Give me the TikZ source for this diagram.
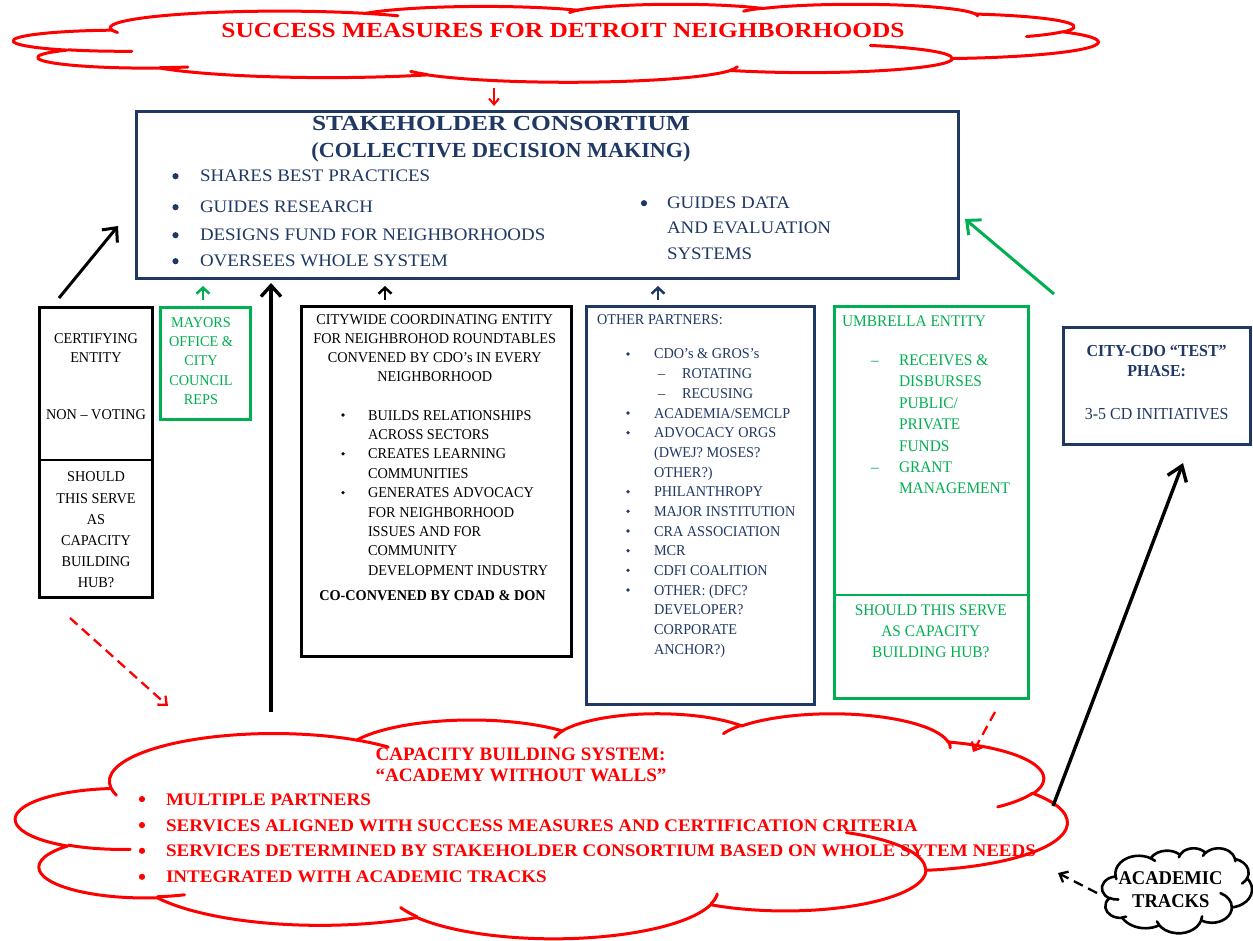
\documentclass[tikz,border=0pt]{standalone}
\usepackage{fontspec}
\usepackage{graphicx}
\setmainfont{Liberation Serif}
\newfontfamily\boxfont{Liberation Serif}[FakeStretch=0.95]
\newfontfamily\widefont{Liberation Serif}[FakeStretch=1.075]
\usetikzlibrary{arrows.meta}
\definecolor{navy}{RGB}{31,56,100}
\definecolor{wgreen}{RGB}{0,176,80}
\definecolor{wred}{RGB}{255,0,0}

% ---- Word-style cloud (preset "cloud" geometry, path units /100) ----
\newcommand\cmove[2]{%
  \pgfmathparse{\cOX+(#1)*\cSX}\let\cMx\pgfmathresult
  \pgfmathparse{\cOY+(#2)*\cSY}\let\cMy\pgfmathresult
  \pgfpathmoveto{\pgfpoint{\cMx pt}{-\cMy pt}}}
\newcommand\carc[4]{%
  \pgfmathparse{atan2((#1)*sin(#3),(#2)*cos(#3))}\let\cAs\pgfmathresult
  \pgfmathparse{atan2((#1)*sin((#3)+(#4)),(#2)*cos((#3)+(#4)))}\let\cAe\pgfmathresult
  \pgfmathparse{mod(\cAe-\cAs+720,360)}\let\cAd\pgfmathresult
  \pgfmathparse{-(\cAs)}\let\cAa\pgfmathresult
  \pgfmathparse{-(\cAs)-(\cAd)}\let\cAb\pgfmathresult
  \pgfmathparse{(#1)*\cSX}\let\cArx\pgfmathresult
  \pgfmathparse{(#2)*\cSY}\let\cAry\pgfmathresult
  \pgfpatharc{\cAa}{\cAb}{\cArx pt and \cAry pt}}
\newcommand\wordcloud[6]{% x0 y0 W H colour linewidth
  \begin{pgfscope}
  \pgfmathsetmacro\cSX{#3/432}\pgfmathsetmacro\cSY{#4/432}%
  \def\cOX{#1}\def\cOY{#2}%
  \pgfsetlinewidth{#6}\pgfsetstrokecolor{#5}\pgfsetfillcolor{white}%
  \pgfsetroundjoin\pgfsetroundcap
  \cmove{39}{143.70}%
  \carc{67.53}{91.90}{-190.48748}{123.78053}%
  \carc{53.33}{72.67}{-144.10238}{89.94523}%
  \carc{43.65}{59.45}{-145.80792}{99.72302}%
  \carc{48.57}{65.95}{-130.98607}{117.24173}%
  \carc{53.33}{72.73}{-78.70888}{109.02692}%
  \carc{67.75}{92.20}{-46.26725}{130.269}%
  \carc{57.85}{78.67}{0.62502}{114.03333}%
  \carc{67.52}{92.15}{22.4516}{115.17255}%
  \carc{77.20}{105.43}{66.24263}{75.71102}%
  \carc{43.60}{59.18}{-274.94208}{146.73557}%
  \carc{43.45}{59.45}{-246.8285}{152.51885}%
  \pgfpathclose
  \pgfusepath{fill,stroke}%
  \cmove{46.93}{261.77}\carc{43.45}{59.45}{86.742}{26.4295}%
  \cmove{69.28}{348.99}\carc{43.60}{59.18}{73.61047}{11.44747}%
  \cmove{164.78}{390.90}\carc{67.52}{92.15}{137.62415}{14.0811}%
  \cmove{288.27}{347.51}\carc{67.52}{92.15}{6.45327}{15.99835}%
  \cmove{341.29}{229.54}\carc{57.85}{78.67}{-70.29235}{70.91737}%
  \cmove{417.98}{153.54}\carc{53.33}{72.73}{30.31803}{27.7515}%
  \cmove{383.24}{54.26}\carc{48.57}{65.95}{-13.74433}{14.8589}%
  \cmove{290.78}{39.52}\carc{48.57}{65.95}{-149.18145}{18.19537}%
  \cmove{221.41}{47.20}\carc{43.65}{59.45}{-163.49427}{17.68635}%
  \cmove{140.00}{51.92}\carc{67.53}{91.90}{-66.70695}{12.31935}%
  \cmove{41.27}{157.89}\carc{67.53}{91.90}{157.65435}{11.85817}%
  \pgfusepath{stroke}%
  \end{pgfscope}}

\begin{document}
\begin{tikzpicture}[x=1pt,y=-1pt,
  L/.style={inner sep=0pt, outer sep=0pt, anchor=base west},
  C/.style={inner sep=0pt, outer sep=0pt, anchor=base},
  dot/.style={circle, inner sep=0pt, outer sep=0pt, draw=none},
  bigdot/.style={dot, minimum size=6.2pt},
  smalldot/.style={dot, minimum size=3.6pt},
  box/.style={draw, line width=3pt, inner sep=0pt, outer sep=0pt},
  divider/.style={line width=1.2pt},
  bigarrow/.style={line width=3pt, -{Straight Barb[length=11pt,width=20pt]}},
  smallarrow/.style={line width=2.5pt, -{Straight Barb[length=6pt,width=13pt]}},
  dasharrow/.style={line width=2.3pt, dash pattern=on 10pt off 6pt, -{Straight Barb[length=7pt,width=12pt]}},
  titlef/.style={font=\bfseries\fontsize{21.5}{24}\selectfont},
  consf/.style={font=\widefont\fontsize{17.6}{20}\selectfont, text=navy},
  certf/.style={font=\boxfont\fontsize{15}{18}\selectfont, text=black},
  mayf/.style={font=\boxfont\fontsize{15}{18}\selectfont, text=wgreen},
  partf/.style={font=\boxfont\fontsize{15}{18}\selectfont, text=navy},
  umbf/.style={font=\boxfont\fontsize{16.2}{19}\selectfont, text=wgreen},
  testf/.style={font=\boxfont\fontsize{16.8}{19}\selectfont, text=navy},
  botf/.style={font=\widefont\bfseries\fontsize{17.7}{20}\selectfont, text=wred},
  bott/.style={font=\bfseries\fontsize{19}{22}\selectfont, text=wred},
  acaf/.style={font=\boxfont\bfseries\fontsize{19.5}{22}\selectfont, text=black}]
\useasboundingbox[fill=white] (0,0) rectangle (1253,941);

% ---------- clouds ----------
\wordcloud{14}{4}{1084}{78}{wred}{3pt}
\wordcloud{16}{713}{1051}{225}{wred}{3pt}
\wordcloud{1102}{848}{150}{85}{black}{2.6pt}
\node[inner sep=0pt, minimum width=1084pt, minimum height=78pt] (topcloud) at (556,43) {};
\node[inner sep=0pt, minimum width=1051pt, minimum height=225pt] (botcloud) at (541.5,825.5) {};
\node[inner sep=0pt, minimum width=150pt, minimum height=85pt] (acacloud) at (1177,890.5) {};

\node[C, titlef, text=wred] (ttl) at (563,37.3) {\resizebox{683pt}{\height}{SUCCESS MEASURES FOR DETROIT NEIGHBORHOODS}};

% ---------- boxes ----------
\node[box, draw=navy, minimum width=822pt, minimum height=167pt] (cons) at (547.5,195) {};
\node[box, draw=black, minimum width=113pt, minimum height=290pt] (cert) at (96,452.5) {};
\node[box, draw=wgreen, minimum width=90pt, minimum height=112pt] (mayor) at (205.5,363.5) {};
\node[box, draw=black, minimum width=270pt, minimum height=350pt] (city) at (436.5,481.5) {};
\node[box, draw=navy, minimum width=228pt, minimum height=398pt] (part) at (700.5,505.5) {};
\node[box, draw=wgreen, minimum width=194pt, minimum height=392pt] (umb) at (931.5,502.5) {};
\node[box, draw=navy, minimum width=187pt, minimum height=117pt] (test) at (1157,386) {};

\coordinate (certdiv) at (96,460);
\draw[divider] (cert.west |- certdiv) -- (cert.east |- certdiv);
\coordinate (umbdiv) at (931.5,595);
\draw[divider, wgreen] (umb.west |- umbdiv) -- (umb.east |- umbdiv);

% ---------- consortium text ----------
\node[C, titlef, text=navy] (ct1) at (501,131) {\resizebox{378pt}{\height}{STAKEHOLDER CONSORTIUM}};
\node[C, titlef, text=navy] (ct2) at (501,158) {\resizebox{379pt}{\height}{(COLLECTIVE DECISION MAKING)}};
\node[bigdot, fill=navy] (cb1) at (175.5,176.2) {};
\node[L, consf] (cl1) at (200,182) {SHARES BEST PRACTICES};
\node[bigdot, fill=navy] (cb2) at (175.5,207.2) {};
\node[L, consf] (cl2) at (200,213) {GUIDES RESEARCH};
\node[bigdot, fill=navy] (cb3) at (175.5,235.2) {};
\node[L, consf] (cl3) at (200,241) {DESIGNS FUND FOR NEIGHBORHOODS};
\node[bigdot, fill=navy] (cb4) at (175.5,261.2) {};
\node[L, consf] (cl4) at (200,267) {OVERSEES WHOLE SYSTEM};
\node[bigdot, fill=navy] (cb5) at (644,203.2) {};
\node[L, consf] (cr1) at (667,209) {GUIDES DATA};
\node[L, consf] (cr2) at (667,234) {AND EVALUATION};
\node[L, consf] (cr3) at (667,260) {SYSTEMS};

% ---------- certifying ----------
\node[C, certf] (ce1) at (96,343) {CERTIFYING};
\node[C, certf] (ce2) at (96,362.7) {ENTITY};
\node[C, certf] (ce3) at (96,419) {NON – VOTING};
\node[C, certf] (ce4) at (96,481.7) {SHOULD};
\node[C, certf] (ce5) at (96,503) {THIS SERVE};
\node[C, certf] (ce6) at (96,524) {AS};
\node[C, certf] (ce7) at (96,545) {CAPACITY};
\node[C, certf] (ce8) at (96,566.7) {BUILDING};
\node[C, certf] (ce9) at (96,587.3) {HUB?};

% ---------- mayors ----------
\node[C, mayf] (ma1) at (201,327.3) {MAYORS};
\node[C, mayf] (ma2) at (201,346.7) {OFFICE \&};
\node[C, mayf] (ma3) at (201,365.7) {CITY};
\node[C, mayf] (ma4) at (201,385) {COUNCIL};
\node[C, mayf] (ma5) at (201,404) {REPS};

% ---------- citywide ----------
\node[C, certf] (cw1) at (434.7,325) {CITYWIDE COORDINATING ENTITY};
\node[C, certf] (cw2) at (434.7,343.5) {FOR NEIGHBROHOD ROUNDTABLES};
\node[C, certf] (cw3) at (434.7,362.5) {CONVENED BY CDO’s IN EVERY};
\node[C, certf] (cw4) at (434.7,381.7) {NEIGHBORHOOD};
\node[smalldot, fill=black] (cwb1) at (343,415) {};
\node[L, certf] (cwi1) at (368,420) {BUILDS RELATIONSHIPS};
\node[L, certf] (cwi2) at (368,439.4) {ACROSS SECTORS};
\node[smalldot, fill=black] (cwb2) at (343,453.8) {};
\node[L, certf] (cwi3) at (368,458.8) {CREATES LEARNING};
\node[L, certf] (cwi4) at (368,478.2) {COMMUNITIES};
\node[smalldot, fill=black] (cwb3) at (343,492.6) {};
\node[L, certf] (cwi5) at (368,497.6) {GENERATES ADVOCACY};
\node[L, certf] (cwi6) at (368,517) {FOR NEIGHBORHOOD};
\node[L, certf] (cwi7) at (368,536.4) {ISSUES AND FOR};
\node[L, certf] (cwi8) at (368,555.8) {COMMUNITY};
\node[L, certf] (cwi9) at (368,575.2) {DEVELOPMENT INDUSTRY};
\node[C, certf, font=\boxfont\bfseries\fontsize{15}{18}\selectfont] (cw5) at (432.5,600) {CO-CONVENED BY CDAD \& DON};

% ---------- other partners ----------
\node[L, partf] (op0) at (597,325) {OTHER PARTNERS:};
\node[smalldot, fill=navy] (opb1) at (628,354) {};
\node[L, partf] (op1) at (654,359) {CDO’s \& GROS’s};
\node[L, partf] (opd1) at (658,378.7) {–};
\node[L, partf] (op2) at (682,378.7) {ROTATING};
\node[L, partf] (opd2) at (658,398.3) {–};
\node[L, partf] (op3) at (682,398.3) {RECUSING};
\node[smalldot, fill=navy] (opb2) at (628,413) {};
\node[L, partf] (op4) at (654,418) {ACADEMIA/SEMCLP};
\node[smalldot, fill=navy] (opb3) at (628,432.7) {};
\node[L, partf] (op5) at (654,437.7) {ADVOCACY ORGS};
\node[L, partf] (op6) at (654,457.3) {(DWEJ? MOSES?};
\node[L, partf] (op7) at (654,477) {OTHER?)};
\node[smalldot, fill=navy] (opb4) at (628,491.7) {};
\node[L, partf] (op8) at (654,496.7) {PHILANTHROPY};
\node[smalldot, fill=navy] (opb5) at (628,511.3) {};
\node[L, partf] (op9) at (654,516.3) {MAJOR INSTITUTION};
\node[smalldot, fill=navy] (opb6) at (628,531) {};
\node[L, partf] (op10) at (654,536) {CRA ASSOCIATION};
\node[smalldot, fill=navy] (opb7) at (628,550.7) {};
\node[L, partf] (op11) at (654,555.7) {MCR};
\node[smalldot, fill=navy] (opb8) at (628,570.3) {};
\node[L, partf] (op12) at (654,575.3) {CDFI COALITION};
\node[smalldot, fill=navy] (opb9) at (628,590) {};
\node[L, partf] (op13) at (654,595) {OTHER: (DFC?};
\node[L, partf] (op14) at (654,614.7) {DEVELOPER?};
\node[L, partf] (op15) at (654,634.3) {CORPORATE};
\node[L, partf] (op16) at (654,654) {ANCHOR?)};

% ---------- umbrella ----------
\node[L, umbf] (um0) at (842,326.7) {UMBRELLA ENTITY};
\node[L, umbf] (umd1) at (871,365.5) {–};
\node[L, umbf] (um1) at (899,365.5) {RECEIVES \&};
\node[L, umbf] (um2) at (899,386.9) {DISBURSES};
\node[L, umbf] (um3) at (899,408.3) {PUBLIC/};
\node[L, umbf] (um4) at (899,429.7) {PRIVATE};
\node[L, umbf] (um5) at (899,451.1) {FUNDS};
\node[L, umbf] (umd2) at (871,472.5) {–};
\node[L, umbf] (um6) at (899,472.5) {GRANT};
\node[L, umbf] (um7) at (899,493.9) {MANAGEMENT};
\node[C, umbf] (um8) at (930.8,615.7) {SHOULD THIS SERVE};
\node[C, umbf] (um9) at (930.8,636.7) {AS CAPACITY};
\node[C, umbf] (um10) at (930.8,657.3) {BUILDING HUB?};

% ---------- test phase ----------
\node[C, testf, font=\boxfont\bfseries\fontsize{16.8}{19}\selectfont] (te1) at (1156.7,356.7) {CITY-CDO “TEST”};
\node[C, testf, font=\boxfont\bfseries\fontsize{16.8}{19}\selectfont] (te2) at (1156.7,376.7) {PHASE:};
\node[C, testf] (te3) at (1156.7,419.3) {3-5 CD INITIATIVES};

% ---------- bottom cloud text ----------
\node[C, bott] (bt1) at (520.6,760) {\resizebox{290pt}{\height}{CAPACITY BUILDING SYSTEM:}};
\node[C, bott] (bt2) at (521,781.5) {\resizebox{291pt}{\height}{“ACADEMY WITHOUT WALLS”}};
\node[bigdot, fill=wred] (bb1) at (142,799.1) {};
\node[L, botf] (bl1) at (166,805) {MULTIPLE PARTNERS};
\node[bigdot, fill=wred] (bb2) at (142,825.1) {};
\node[L, botf] (bl2) at (166,831) {SERVICES ALIGNED WITH SUCCESS MEASURES AND CERTIFICATION CRITERIA};
\node[bigdot, fill=wred] (bb3) at (142,850.8) {};
\node[L, botf] (bl3) at (166,856.7) {SERVICES DETERMINED BY STAKEHOLDER CONSORTIUM BASED ON WHOLE SYTEM NEEDS};
\node[bigdot, fill=wred] (bb4) at (142,876.8) {};
\node[L, botf] (bl4) at (166,882.7) {INTEGRATED WITH ACADEMIC TRACKS};

% ---------- academic tracks text ----------
\node[C, acaf] (ac1) at (1170.5,884) {ACADEMIC};
\node[C, acaf] (ac2) at (1170.8,907.3) {TRACKS};

% ---------- connectors ----------
\coordinate (a1s) at (494,88);   \coordinate (a1e) at (494,106);
\draw[line width=2pt, wred, -{Straight Barb[length=6pt,width=10pt]}] (a1s) -- (a1e);

\coordinate (a2s) at (59,298);   \coordinate (a2e) at (118,226);
\draw[bigarrow] (a2s) -- (a2e);

\coordinate (a3s) at (203,300);  \coordinate (a3e) at (203,286);
\draw[smallarrow, wgreen] (a3s) -- (a3e);

\coordinate (a4s) at (271,712);  \coordinate (a4e) at (271,283);
\draw[bigarrow, line width=3.4pt] (a4s) -- (a4e);

\coordinate (a5s) at (385,300);  \coordinate (a5e) at (385,286);
\draw[smallarrow] (a5s) -- (a5e);

\coordinate (a6s) at (658,300);  \coordinate (a6e) at (658,286);
\draw[smallarrow, navy] (a6s) -- (a6e);

\coordinate (a7s) at (1054,294); \coordinate (a7e) at (965,219);
\draw[bigarrow, wgreen] (a7s) -- (a7e);

\coordinate (a8s) at (70,618);   \coordinate (a8e) at (168,706);
\draw[dasharrow, wred] (a8s) -- (a8e);

\coordinate (a9s) at (995,712);  \coordinate (a9e) at (973,752);
\draw[dasharrow, wred] (a9s) -- (a9e);

\coordinate (a10s) at (1053,806); \coordinate (a10e) at (1183,463);
\draw[bigarrow, line width=3.4pt, -{Straight Barb[length=14pt,width=20pt]}] (a10s) -- (a10e);

\coordinate (a11s) at (1097,893); \coordinate (a11e) at (1058,873);
\draw[dasharrow, black] (a11s) -- (a11e);
\end{tikzpicture}
\end{document}
